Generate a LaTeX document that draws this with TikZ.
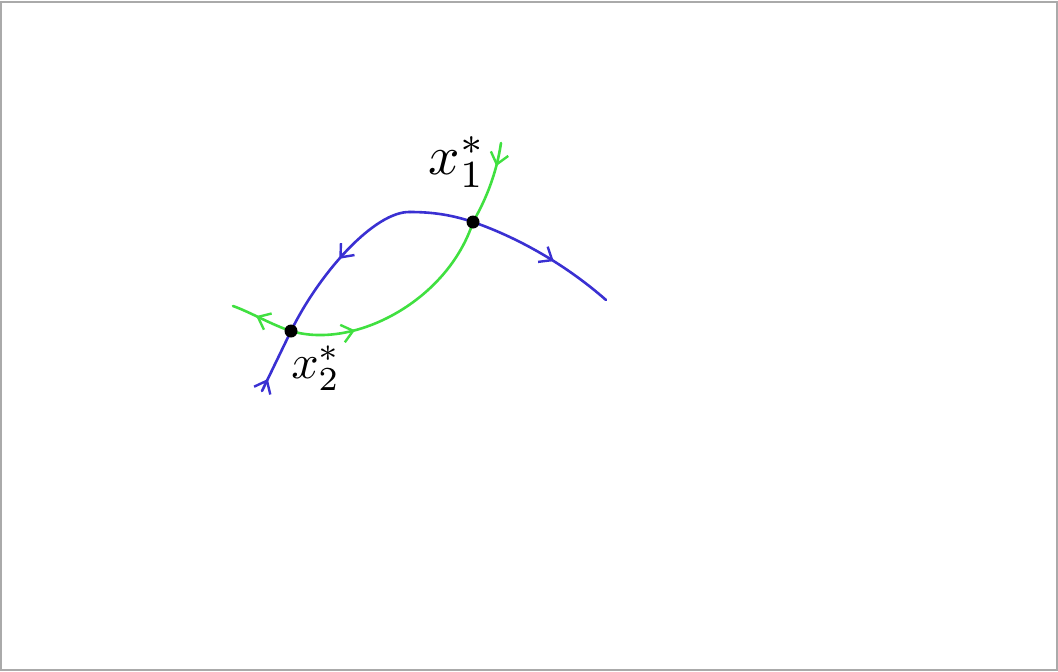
\documentclass[tikz,border=0pt]{standalone}
\usepackage{graphicx}
\usetikzlibrary{arrows.meta,decorations.markings}
\definecolor{myblue}{RGB}{58,48,210}
\definecolor{mygreen}{RGB}{64,224,64}
\definecolor{framegray}{RGB}{170,170,170}
\begin{document}
\begin{tikzpicture}[x=1pt,y=-1pt,
  curve/.style={line width=2.6pt, line cap=round},
  bluec/.style={curve, draw=myblue},
  greenc/.style={curve, draw=mygreen},
  fwd/.style={postaction={decorate}, decoration={markings,
      mark=at position #1 with {\arrow{Straight Barb[length=11pt,width=18pt,line width=2.4pt]}}}},
  bwd/.style={postaction={decorate}, decoration={markings,
      mark=at position #1 with {\arrowreversed{Straight Barb[length=11pt,width=18pt,line width=2.4pt]}}}},
  dot/.style={circle, fill=black, inner sep=0pt, minimum size=13pt},
  lab/.style={inner sep=0pt}
]
\useasboundingbox (0,0) rectangle (1058,672);
\draw[framegray, line width=2pt] (1,2) rectangle (1057,670);

\coordinate (x1) at (473,222);
\coordinate (x2) at (291,331);
\coordinate (b0) at (262,391);
\coordinate (btop) at (410,212);
\coordinate (b3) at (606,300);
\coordinate (g0) at (501,143);
\coordinate (g3) at (233,306);

% blue manifold
\draw[bluec, fwd=0.2] (b0) -- (x2);
\draw[bluec, bwd=0.5] (x2) .. controls (320,272) and (375,211) .. (btop);
\draw[bluec] (btop) .. controls (433,212) and (452,215) .. (x1);
\draw[bluec, fwd=0.58] (x1) .. controls (525,240) and (572,270) .. (b3);

% green manifold
\draw[greenc, fwd=0.28] (g0) .. controls (497,170) and (488,196) .. (x1);
\draw[greenc, bwd=0.72] (x1) .. controls (448,300) and (355,350) .. (x2);
\draw[greenc, fwd=0.6] (x2) .. controls (272,325) and (250,312) .. (g3);

\node[dot] (p1) at (x1) {};
\node[dot] (p2) at (x2) {};

\node[lab] (l1) at (457,162) {\scalebox{5.5}{$x_1^*$}};
\node[lab] (l2) at (316,368) {\scalebox{4.8}{$x_2^*$}};
\end{tikzpicture}
\end{document}
